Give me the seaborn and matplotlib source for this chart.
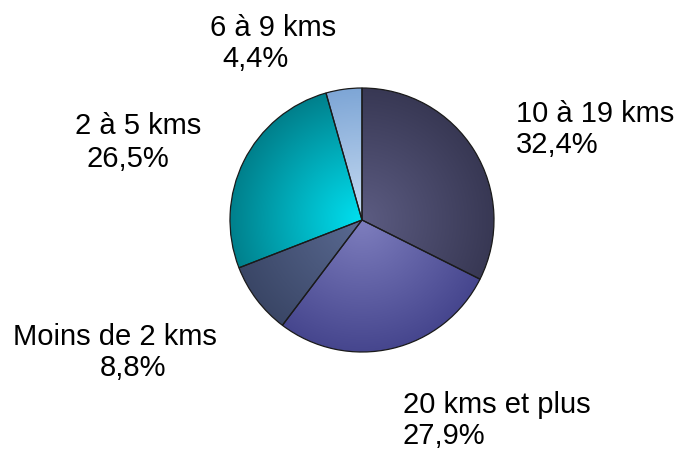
import numpy as np
import matplotlib
matplotlib.use("Agg")
import matplotlib.pyplot as plt
import seaborn as sns

# Trajets domicile-travail par distance
categories = ["10 à 19 kms", "20 kms et plus", "Moins de 2 kms", "2 à 5 kms", "6 à 9 kms"]
shares = [32.4, 27.9, 8.8, 26.5, 4.4]
value_labels = ["32,4%", "27,9%", "8,8%", "26,5%", "4,4%"]

# gradient colours per slice: (inner, outer)
inner_colors = ["#5c5c82", "#7e7ebe", "#5a6a92", "#00e0f0", "#c8dcf2"]
outer_colors = ["#383854", "#46468e", "#3a4666", "#00808c", "#7ea6d6"]

sns.set_theme(style="white")
plt.rcParams["font.family"] = ["Liberation Sans", "DejaVu Sans"]

W, H = 680, 450
fig = plt.figure(figsize=(W / 100, H / 100), dpi=100)
ax = fig.add_axes([0, 0, 1, 1])

cx, cy, R = 362, H - 220, 132
wedges, _ = ax.pie(shares, startangle=90, counterclock=False, radius=R,
                   center=(cx, cy), frame=True,
                   wedgeprops=dict(edgecolor="#1a1a1a", linewidth=0.9))
ax.set_xlim(0, W)
ax.set_ylim(0, H)
ax.set_aspect("equal")
ax.axis("off")

# radial shading inside each slice
n = 400
xs = np.linspace(cx - R, cx + R, n)
ys = np.linspace(cy - R, cy + R, n)
XX, YY = np.meshgrid(xs, ys)
rr = np.clip(np.hypot(XX - cx, YY - cy) / R, 0, 1)
for w, c0, c1 in zip(wedges, inner_colors, outer_colors):
    w.set_facecolor("none")
    cmap = sns.blend_palette([c0, c1], as_cmap=True)
    im = ax.imshow(rr, cmap=cmap, vmin=0, vmax=1, origin="lower",
                   extent=(cx - R, cx + R, cy - R, cy + R),
                   interpolation="bilinear", zorder=1)
    im.set_clip_path(w)
    w.set_zorder(2)
ax.set_xlim(0, W)
ax.set_ylim(0, H)

# labels: (category line position, value line position), baselines in pixels from top
label_pos = [
    ((516, 122), (516, 153)),
    ((403, 413), (403, 444)),
    ((13, 345), (100, 376)),
    ((75, 134), (87, 167)),
    ((210, 36), (222, 67)),
]
for cat, val, ((x1, y1), (x2, y2)) in zip(categories, value_labels, label_pos):
    ax.text(x1, H - y1, cat, ha="left", va="baseline", fontsize=21, color="#000000")
    ax.text(x2, H - y2, val, ha="left", va="baseline", fontsize=21, color="#000000")

fig.savefig("out.png", dpi=100, facecolor="white")
